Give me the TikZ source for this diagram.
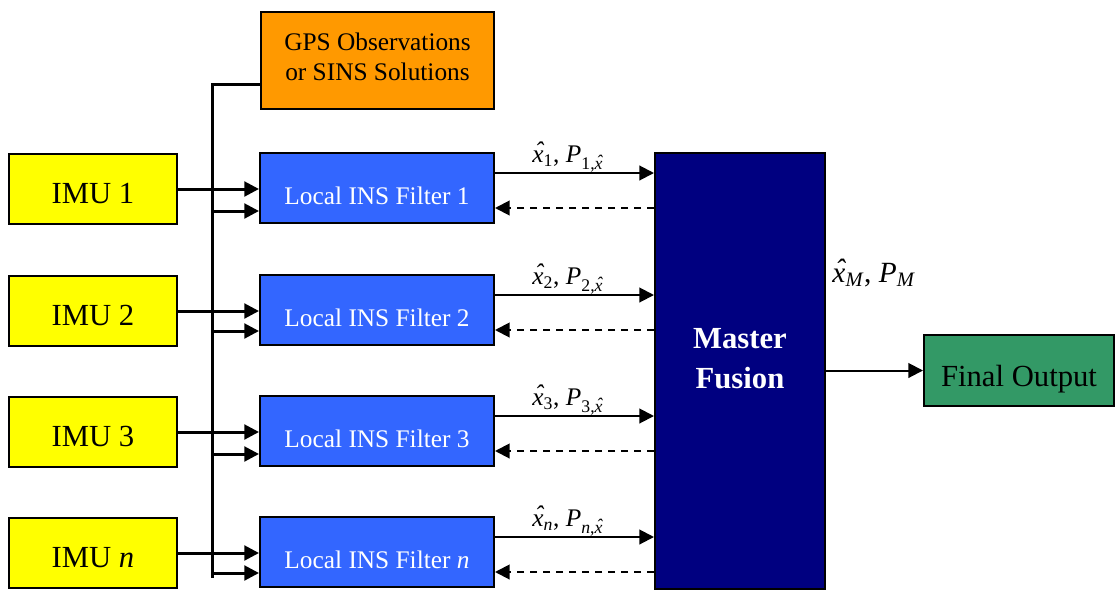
\documentclass[tikz,border=0pt]{standalone}
\usepackage{fontspec}
\setmainfont{Liberation Serif}
\usetikzlibrary{arrows.meta}
\definecolor{imuyellow}{HTML}{FFFF00}
\definecolor{filterblue}{HTML}{3366FF}
\definecolor{gpsorange}{HTML}{FF9900}
\definecolor{masternavy}{HTML}{000080}
\definecolor{outgreen}{HTML}{339966}
% estimate symbols set in the serif italic: x with a circumflex laid over it
\newcommand{\xhat}{\textit{x\llap{\raisebox{0.25ex}{\char"02C6}\kern0.02em}}}
\newcommand{\estpair}[1]{\xhat\textsubscript{#1}, \textit{P}\textsubscript{#1,\xhat}}
\tikzset{
  box/.style={draw=black, line width=1.5pt, inner sep=0pt, align=center},
  imubox/.style={box, fill=imuyellow, minimum width=126pt, minimum height=52.5pt,
                 font=\fontsize{23}{26}\selectfont, text height=21.2pt, text depth=0pt},
  filterbox/.style={box, fill=filterblue, text=white, minimum width=175.5pt, minimum height=52.5pt,
                 font=\fontsize{19}{22}\selectfont, text height=24.6pt, text depth=0pt},
  tip/.style={-{Triangle[length=11pt,width=11pt]}},
  busline/.style={line width=2.25pt},
  feed/.style={busline, tip},
  toMaster/.style={line width=1.5pt, tip},
  fromMaster/.style={line width=1.5pt, tip, dash pattern=on 5.25pt off 4.5pt},
  lbl/.style={inner sep=1pt, font=\fontsize{19}{22}\selectfont},
}
\begin{document}
\begin{tikzpicture}[x=0.75pt, y=-0.75pt]
  \useasboundingbox (0,0) rectangle (1116,589);

  % sources
  \node[box, fill=gpsorange, minimum width=174.75pt, minimum height=72.75pt,
        font=\fontsize{19}{22.5}\selectfont, text depth=5.2pt] (gps) at (377.5,60.5)
        {GPS Observations\\or SINS Solutions};

  \node[imubox] (imu1) at (93,189) {IMU 1};
  \node[imubox] (imu2) at (93,311) {IMU 2};
  \node[imubox] (imu3) at (93,432) {IMU 3};
  \node[imubox] (imun) at (93,553) {IMU \textit{n}};

  \node[filterbox] (f1) at (377,188) {Local INS Filter 1};
  \node[filterbox] (f2) at (377,310) {Local INS Filter 2};
  \node[filterbox] (f3) at (377,431) {Local INS Filter 3};
  \node[filterbox] (fn) at (377,552) {Local INS Filter \textit{n}};

  \node[box, fill=masternavy, text=white, minimum width=127.5pt, minimum height=327pt,
        font=\fontsize{23}{30}\selectfont\bfseries, text depth=18pt] (m) at (740,370.5)
        {Master\\Fusion};

  \node[box, fill=outgreen, minimum width=142.5pt, minimum height=53.25pt,
        font=\fontsize{23}{26}\selectfont, text height=24.2pt, text depth=0pt] (out)
        at (1019,370.5) {Final Output};

  % shared aiding bus
  \coordinate (bustop) at (212,84);
  \coordinate (busbot) at (212,578);
  \draw[busline] (gps.west |- bustop) -- (bustop) -- (busbot);

  % IMU data and aiding data into each local filter
  \foreach \i/\bus in {1/211, 2/331, 3/454, n/573} {
    \draw[feed] (imu\i.east) -- (imu\i.east -| f\i.west);
    \coordinate (b\i) at (212,\bus);
    \draw[feed] (b\i) -- (b\i -| f\i.west);
  }

  % local estimates up to the master, feedback back down
  \foreach \i/\s in {1/1, 2/2, 3/3, n/\textit{n}} {
    \path ([yshift=11.25pt]f\i.east) coordinate (up\i);
    \path ([yshift=-15pt]f\i.east) coordinate (dn\i);
    \draw[toMaster] (up\i) -- (up\i -| m.west)
      node[lbl, midway, above, xshift=-5pt, yshift=-1pt] {\estpair{\s}};
    \draw[fromMaster] (dn\i -| m.west) -- (dn\i);
  }

  % fused output
  \draw[line width=1.5pt, tip] (m.east |- out.west) -- (out.west);
  \node[inner sep=0pt, font=\fontsize{22}{25}\selectfont] (mlab) at (874,273)
    {\xhat\textsubscript{\textit{M}}, \textit{P}\textsubscript{\textit{M}}};
\end{tikzpicture}
\end{document}
